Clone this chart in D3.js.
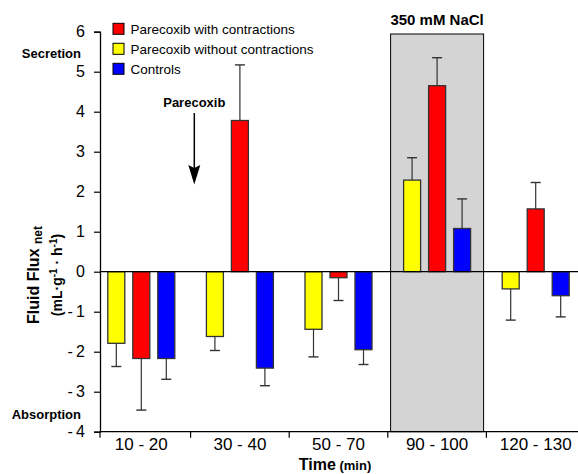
<!DOCTYPE html>
<html><head><meta charset="utf-8">
<script src="https://cdn.jsdelivr.net/npm/d3@7"></script>
<style>body{margin:0;background:#fff} text{font-family:"Liberation Sans",Arial,sans-serif;fill:#000}</style>
</head><body><svg id="c" width="578" height="474"></svg>
<script>
// ---- data ----
const categories = ["10 - 20", "30 - 40", "50 - 70", "90 - 100", "120 - 130"];
const seriesKeys = ["without", "with", "control"];
const seriesLabels = {with: "Parecoxib with contractions", without: "Parecoxib without contractions", control: "Controls"};
const legendOrder = ["with", "without", "control"];
const withoutVals = [-1.79, -1.62, -1.44, 2.29, -0.43];
const withoutErr  = [0.58, 0.35, 0.69, 0.56, 0.78];
const withVals    = [-2.17, 3.78, -0.15, 4.65, 1.57];
const withErr     = [1.29, 1.39, 0.57, 0.70, 0.66];
const controlVals = [-2.17, -2.41, -1.95, 1.08, -0.60];
const controlErr  = [0.52, 0.44, 0.37, 0.74, 0.53];
const yTicks = [-4, -3, -2, -1, 0, 1, 2, 3, 4, 5, 6];
const shadedCategory = "90 - 100";
const shadedLabel = "350 mM NaCl";
const arrowCategory = "10 - 20";

const colors = {without: "#ffff00", with: "#ff0000", control: "#0000ff"};
const values = {without: withoutVals, with: withVals, control: controlVals};
const errors = {without: withoutErr, with: withErr, control: controlErr};

const svg = d3.select("#c");
const axisX = 100, right = 578;
const y = d3.scaleLinear().domain([-4, 6]).range([431.7, 31.7]);
const x0 = d3.scaleBand().domain(categories).range([92, 585]);
const x1 = d3.scaleBand().domain(seriesKeys).range([-37.5, 37.5]).paddingInner(0.32).paddingOuter(0.16);
const cx = c => x0(c) + x0.bandwidth() / 2;

// shaded region
const shW = 93;
svg.append("rect").attr("x", cx(shadedCategory) - shW / 2).attr("y", 34)
  .attr("width", shW).attr("height", y(-4) - 34)
  .attr("fill", "#d4d4d4").attr("stroke", "#000").attr("stroke-width", 1);
svg.append("text").attr("x", cx(shadedCategory)).attr("y", 25).attr("text-anchor", "middle")
  .attr("font-size", 15).attr("font-weight", "bold").text(shadedLabel);

// bars
const rows = [];
categories.forEach((c, i) => seriesKeys.forEach(k => rows.push({c, k, v: values[k][i], e: errors[k][i]})));
const g = svg.append("g");
g.selectAll("rect.bar").data(rows).join("rect").attr("class", "bar")
  .attr("x", d => cx(d.c) + x1(d.k))
  .attr("y", d => y(Math.max(0, d.v)))
  .attr("width", x1.bandwidth())
  .attr("height", d => Math.abs(y(d.v) - y(0)))
  .attr("fill", d => colors[d.k]).attr("stroke", "#333").attr("stroke-width", 1.3);
// error bars
rows.forEach(d => {
  const xm = cx(d.c) + x1(d.k) + x1.bandwidth() / 2;
  const end = d.v >= 0 ? d.v + d.e : d.v - d.e;
  g.append("line").attr("x1", xm).attr("x2", xm).attr("y1", y(d.v)).attr("y2", y(end))
    .attr("stroke", "#333").attr("stroke-width", 1.2);
  g.append("line").attr("x1", xm - 5).attr("x2", xm + 5).attr("y1", y(end)).attr("y2", y(end))
    .attr("stroke", "#333").attr("stroke-width", 1.4);
});

// zero line
svg.append("line").attr("x1", axisX).attr("x2", right).attr("y1", y(0)).attr("y2", y(0))
  .attr("stroke", "#000").attr("stroke-width", 1.3);

// y axis
const yAxis = d3.axisLeft(y).tickValues(yTicks).tickSize(6).tickPadding(9)
  .tickFormat(d => d < 0 ? "-\u2009" + Math.abs(d) : String(d));
const ya = svg.append("g").attr("transform", `translate(${axisX},0)`).call(yAxis);
ya.select(".domain").attr("stroke", "#000").attr("stroke-width", 1.3);
ya.selectAll(".tick line").attr("stroke", "#000").attr("stroke-width", 1.2);
ya.selectAll(".tick text").attr("font-size", 16).attr("font-family", "Liberation Sans, Arial, sans-serif").attr("fill", "#000");

// x axis
svg.append("line").attr("x1", axisX).attr("x2", right).attr("y1", y(-4)).attr("y2", y(-4))
  .attr("stroke", "#000").attr("stroke-width", 1.3);
const tickXs = [axisX].concat(categories.slice(1).map(c => x0(c)));
tickXs.forEach(t => svg.append("line").attr("x1", t).attr("x2", t).attr("y1", y(-4)).attr("y2", y(-4) + 6)
  .attr("stroke", "#000").attr("stroke-width", 1.2));
categories.forEach(c => svg.append("text").attr("x", cx(c)).attr("y", 450).attr("text-anchor", "middle")
  .attr("font-size", 17).text(c));
const tt = svg.append("text").attr("x", 335).attr("y", 470).attr("text-anchor", "middle").attr("font-weight", "bold");
tt.append("tspan").attr("font-size", 16).text("Time");
tt.append("tspan").attr("font-size", 13).text(" (min)");

// y title
const yt = svg.append("text").attr("transform", "translate(39,275) rotate(-90)").attr("text-anchor", "middle").attr("font-weight", "bold");
yt.append("tspan").attr("font-size", 16).text("Fluid Flux ");
yt.append("tspan").attr("font-size", 12).attr("dy", 3).text("net");
const yt2 = svg.append("text").attr("transform", "translate(62,275) rotate(-90)").attr("text-anchor", "middle").attr("font-weight", "bold").attr("font-size", 14);
yt2.append("tspan").text("(mL·g");
yt2.append("tspan").attr("font-size", 10).attr("dy", -5).text("-1");
yt2.append("tspan").attr("dy", 5).text(" · h");
yt2.append("tspan").attr("font-size", 10).attr("dy", -5).text("-1");
yt2.append("tspan").attr("dy", 5).text(")");

// Secretion / Absorption
svg.append("text").attr("x", 81).attr("y", 57.5).attr("text-anchor", "end").attr("font-size", 13).attr("font-weight", "bold").text("Secretion");
svg.append("text").attr("x", 81).attr("y", 418.5).attr("text-anchor", "end").attr("font-size", 13).attr("font-weight", "bold").text("Absorption");

// Parecoxib arrow
const ax = cx(arrowCategory) + 53;
svg.append("text").attr("x", ax).attr("y", 106.5).attr("text-anchor", "middle").attr("font-size", 13).attr("font-weight", "bold").text("Parecoxib");
svg.append("line").attr("x1", ax).attr("x2", ax).attr("y1", 113).attr("y2", 172).attr("stroke", "#000").attr("stroke-width", 1.5);
svg.append("path").attr("d", `M${ax - 6},165 L${ax},184.5 L${ax + 6},165 L${ax},168 Z`).attr("fill", "#000");

// legend
legendOrder.forEach((k, i) => {
  const ly = 23.3 + i * 20;
  svg.append("rect").attr("x", 113).attr("y", ly).attr("width", 11).attr("height", 11)
    .attr("fill", colors[k]).attr("stroke", "#000").attr("stroke-width", 1);
  svg.append("text").attr("x", 130.5).attr("y", ly + 10.2).attr("font-size", 13.5).text(seriesLabels[k]);
});
</script></body></html>
